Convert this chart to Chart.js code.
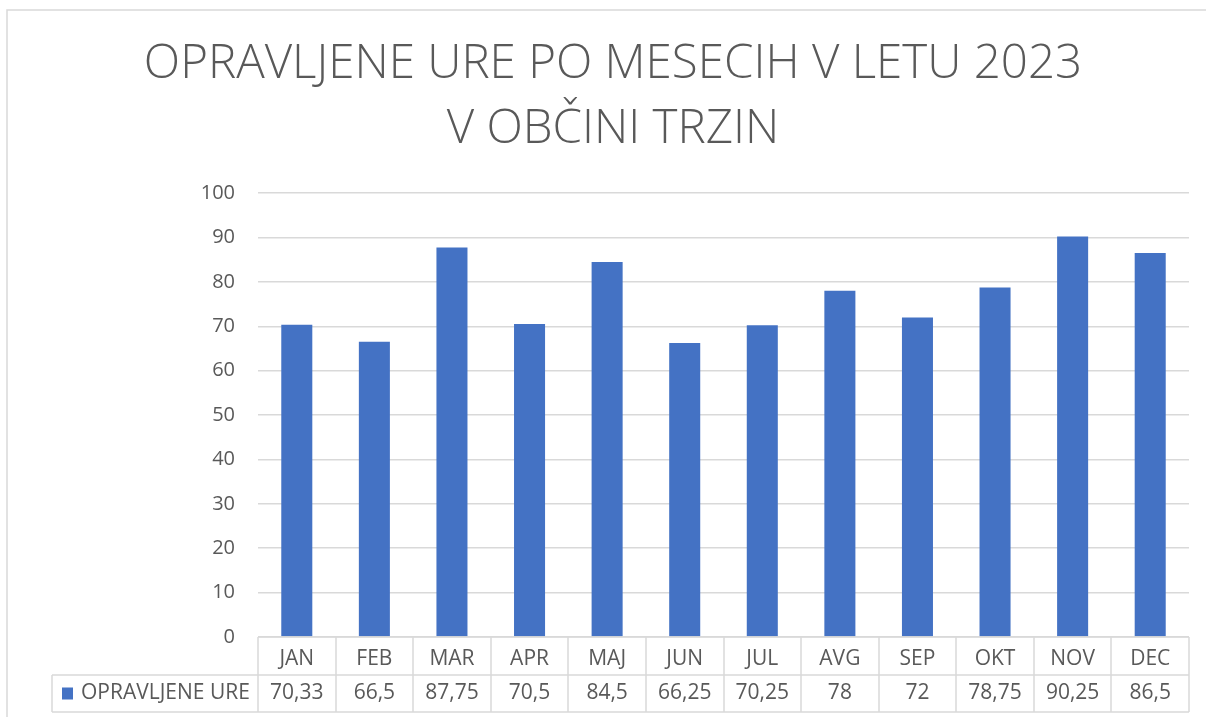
<!DOCTYPE html>
<html>
<head>
<meta charset="utf-8">
<script src="https://cdn.jsdelivr.net/npm/chart.js@4.4.1/dist/chart.umd.min.js"></script>
<style>
  html, body { margin: 0; padding: 0; background: #ffffff; }
  #wrap { width: 1206px; height: 717px; position: relative; }
</style>
</head>
<body>
<div id="wrap"><canvas id="c" width="1206" height="717"></canvas></div>
<script>
const titleLines = ['OPRAVLJENE URE PO MESECIH V LETU 2023', 'V OBČINI TRZIN'];
const seriesName = 'OPRAVLJENE URE';
const categories = ['JAN', 'FEB', 'MAR', 'APR', 'MAJ', 'JUN', 'JUL', 'AVG', 'SEP', 'OKT', 'NOV', 'DEC'];
const hours = [70.33, 66.5, 87.75, 70.5, 84.5, 66.25, 70.25, 78, 72, 78.75, 90.25, 86.5];
const yTicks = [0, 10, 20, 30, 40, 50, 60, 70, 80, 90, 100];

const TEXT = '#595959';
const GRID = '#d9d9d9';
const BAR = '#4472C4';
const FONT = "'Open Sans', sans-serif";

const fmt = v => String(v).replace('.', ',');

const tablePlugin = {
  id: 'dataTable',
  beforeDraw(chart) {
    const ctx = chart.ctx;
    ctx.save();
    ctx.fillStyle = '#ffffff';
    ctx.fillRect(0, 0, chart.width, chart.height);
    ctx.strokeStyle = GRID;
    ctx.lineWidth = 1.5;
    ctx.strokeRect(7, 10, chart.width + 20, chart.height + 20);
    ctx.restore();
  },
  afterDraw(chart) {
    const ctx = chart.ctx;
    const x = chart.scales.x;
    const area = chart.chartArea;
    const n = categories.length;
    const step = (area.right - area.left) / n;
    const headTop = area.bottom;
    const rowTop = area.bottom + 38;
    const rowBottom = rowTop + 37;
    const tableLeft = 52;
    ctx.save();
    ctx.strokeStyle = GRID;
    ctx.lineWidth = 1.5;
    ctx.beginPath();
    ctx.moveTo(area.left, headTop); ctx.lineTo(area.right, headTop);
    ctx.moveTo(tableLeft, rowTop); ctx.lineTo(area.right, rowTop);
    ctx.moveTo(tableLeft, rowBottom); ctx.lineTo(area.right, rowBottom);
    ctx.moveTo(tableLeft, rowTop); ctx.lineTo(tableLeft, rowBottom);
    for (let i = 0; i <= n; i++) {
      const xx = i === n ? area.right : Math.round(x.getPixelForValue(i) - step / 2);
      ctx.moveTo(xx, headTop); ctx.lineTo(xx, rowBottom);
    }
    ctx.stroke();

    const cy = (rowTop + rowBottom) / 2;
    ctx.fillStyle = BAR;
    ctx.fillRect(62, cy - 6, 11, 12);
    ctx.fillStyle = TEXT;
    ctx.font = '21px ' + FONT;
    ctx.textBaseline = 'middle';
    ctx.textAlign = 'left';
    ctx.fillText(seriesName, 81, cy);
    ctx.textAlign = 'center';
    hours.forEach((v, i) => {
      ctx.fillText(fmt(v), x.getPixelForValue(i), cy);
    });
    ctx.restore();
  }
};

new Chart(document.getElementById('c'), {
  type: 'bar',
  data: {
    labels: categories,
    datasets: [{
      label: seriesName,
      data: hours,
      backgroundColor: BAR,
      borderWidth: 0,
      categoryPercentage: 1.0,
      barPercentage: 0.4
    }]
  },
  options: {
    responsive: false,
    animation: false,
    devicePixelRatio: 1,
    layout: { padding: { left: 37, right: 17, top: 0, bottom: 42 } },
    plugins: {
      legend: { display: false },
      tooltip: { enabled: false },
      title: {
        display: true,
        text: titleLines,
        color: TEXT,
        font: { family: FONT, size: 47.5, weight: 300, lineHeight: 1.37 },
        padding: { top: 32, bottom: 31 }
      }
    },
    scales: {
      x: {
        grid: { display: false },
        border: { display: false },
        ticks: {
          color: TEXT,
          font: { family: FONT, size: 21 },
          padding: 1,
          maxRotation: 0,
          autoSkip: false
        },
        afterFit(scale) { scale.height = 38; }
      },
      y: {
        min: 0,
        max: 100,
        afterBuildTicks(scale) { scale.ticks = yTicks.map(v => ({ value: v })); },
        grid: { color: GRID, lineWidth: 1.5, drawTicks: false },
        border: { display: false },
        ticks: {
          color: TEXT,
          font: { family: FONT, size: 20 },
          padding: 23
        },
        afterFit(scale) { scale.width = 221; }
      }
    }
  },
  plugins: [tablePlugin]
});
</script>
</body>
</html>
